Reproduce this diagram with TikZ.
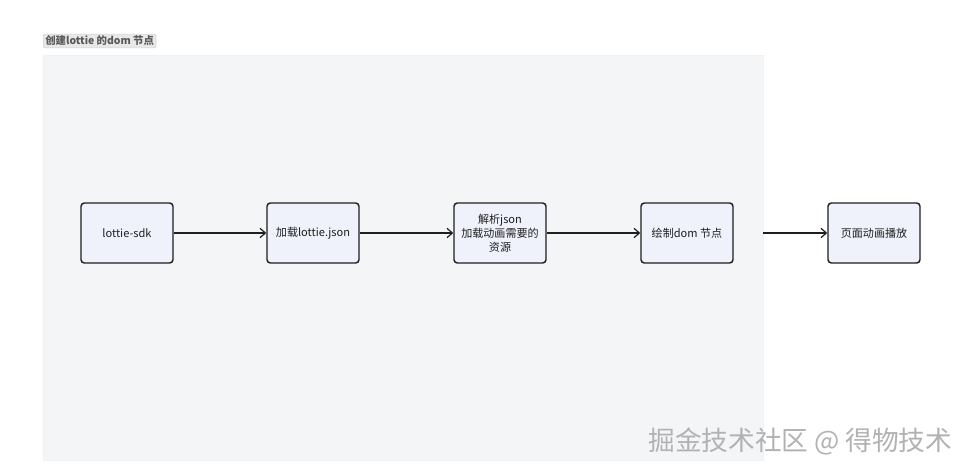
\documentclass[tikz,border=0pt]{standalone}
\usepackage{fontspec}
\setmainfont{Noto Sans CJK SC}
\usetikzlibrary{positioning,arrows.meta}
\definecolor{clusterfill}{HTML}{F4F5F7}
\definecolor{stepfill}{HTML}{EFF1FB}
\definecolor{linecol}{HTML}{1F1F1F}
\tikzset{
  stepbox/.style={draw=linecol,line width=1.1pt,rounded corners=2.5pt,fill=stepfill,
    minimum width=69pt,minimum height=45pt,align=center,font=\fontsize{8.3}{10.5}\selectfont,text=linecol},
  flow/.style={-{Straight Barb[length=4pt,width=7pt]},line width=0.9pt,draw=linecol},
}
\begin{document}
\begin{tikzpicture}[x=0.75pt,y=-0.75pt]
  \useasboundingbox (0,0) rectangle (970,475);
  \fill[white] (0,0) rectangle (970,475);
  \draw[clusterfill!80!gray!40,fill=clusterfill] (43,55) rectangle (763,460);
  \node[fill=gray!18,draw=gray!35,rounded corners=1pt,inner sep=1.5pt,anchor=west,
    font=\bfseries\fontsize{7.8}{8.5}\selectfont,text=gray!70!black] (lbl) at (43,41) {创建lottie 的dom 节点};
  \def \Steps{
    sdk/127/lottie-sdk,
    load/313/加载lottie.json,
    parse/500/{解析json\\加载动画需要的\\资源},
    draw/687/绘制dom 节点,
    play/874/页面动画播放}
  \foreach \id / \x / \lb in \Steps{
    \node[stepbox] (\id) at (\x, 233) {\lb};
  }
  \coordinate (edge) at (763,233);
  \foreach \a / \b in {sdk/load, load/parse, parse/draw}{
    \draw[flow] (\a) -- (\b);
  }
  \draw[flow] (edge) -- (play);
  \node[anchor=east,font=\fontsize{20}{22}\selectfont,text=gray!60] (mark) at (957,441) {掘金技术社区 @ 得物技术};
\end{tikzpicture}
\end{document}
